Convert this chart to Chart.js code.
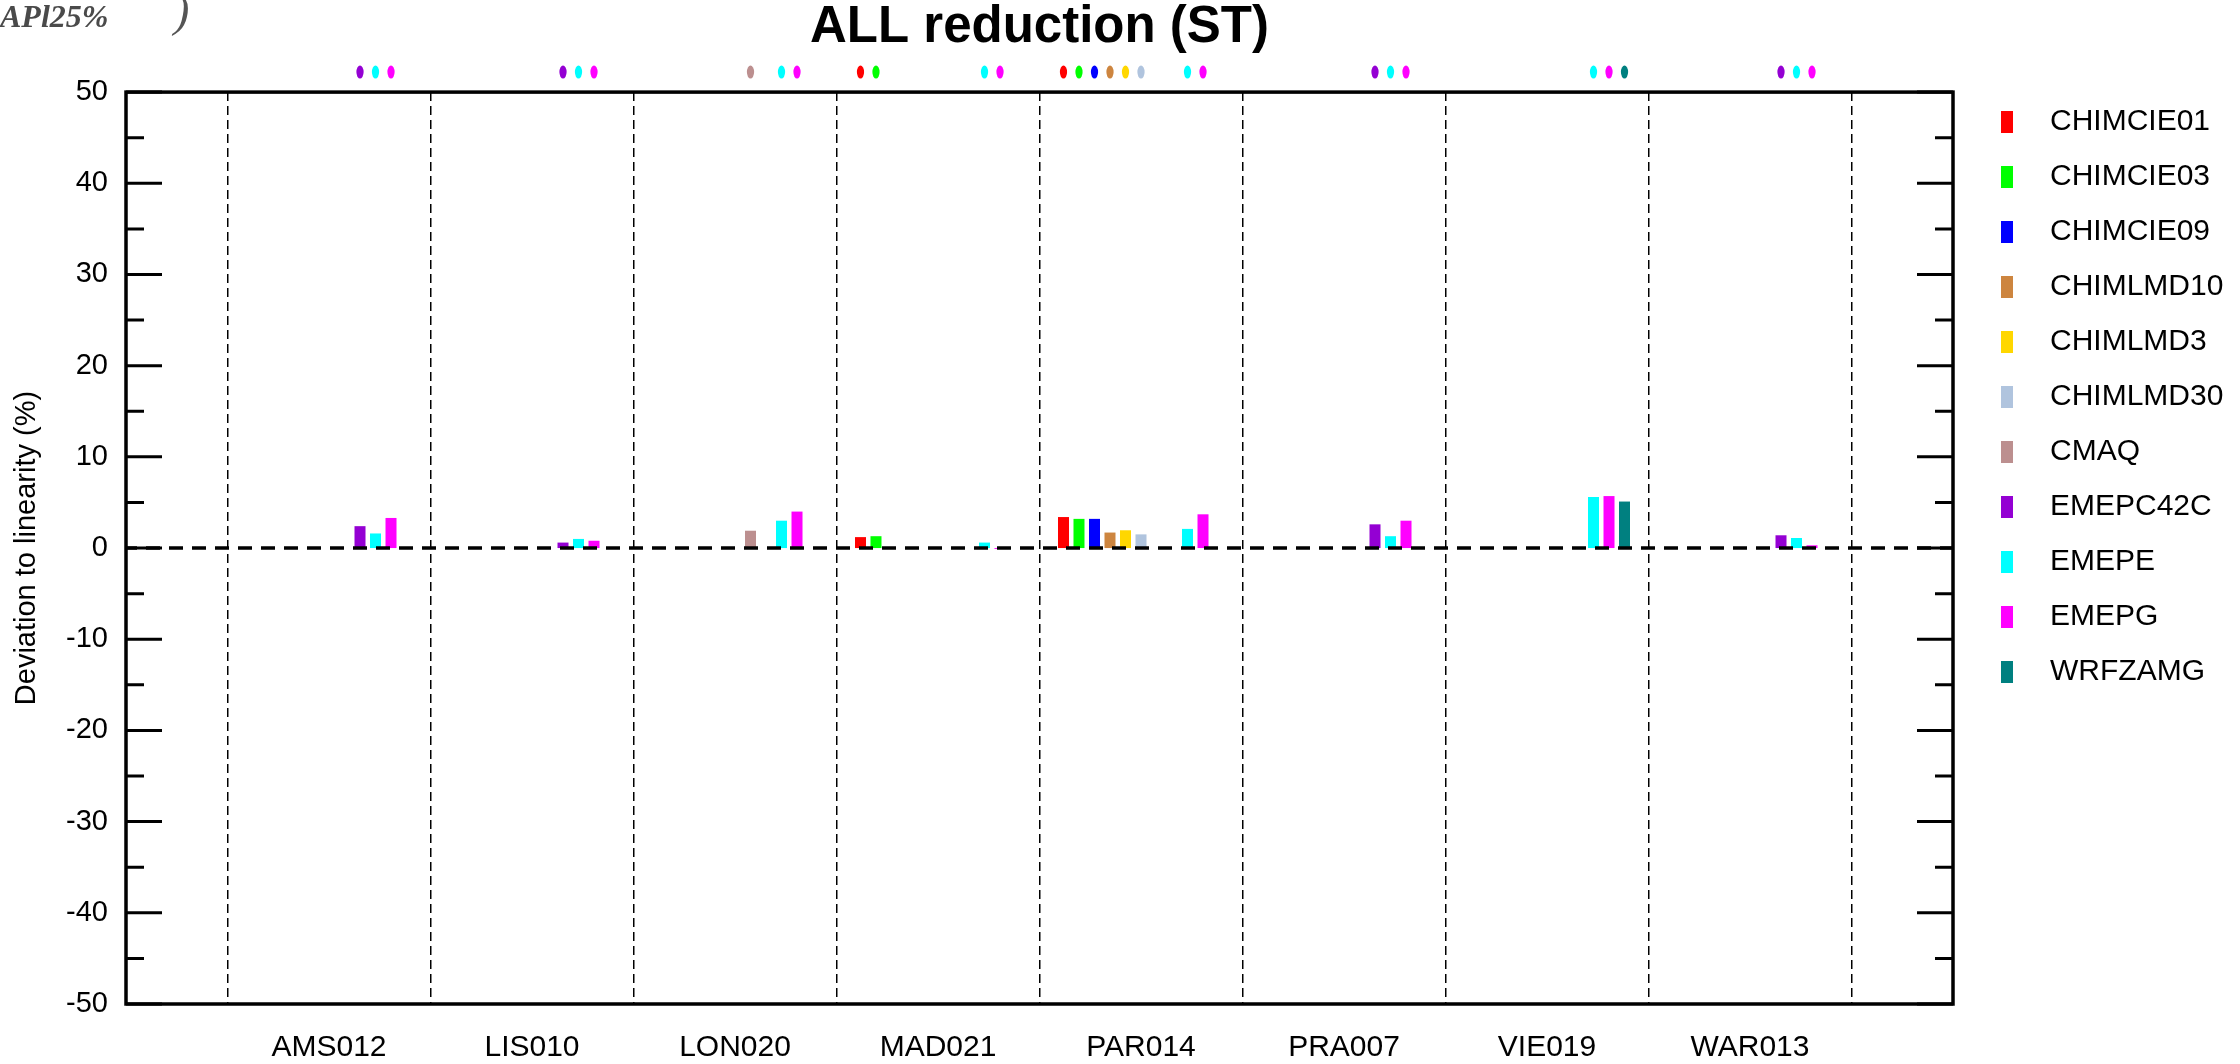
<!DOCTYPE html>
<html>
<head>
<meta charset="utf-8">
<script src="https://cdn.jsdelivr.net/npm/chart.js@4.4.0/dist/chart.umd.min.js"></script>
<style>
html,body{margin:0;padding:0;background:#fff;}
#wrap{width:2240px;height:1064px;position:relative;}
</style>
</head>
<body>
<div id="wrap"><canvas id="c" width="2240" height="1064"></canvas></div>
<script>
// ---- data ----
const stations = ['AMS012','LIS010','LON020','MAD021','PAR014','PRA007','VIE019','WAR013'];
const models = ['CHIMCIE01','CHIMCIE03','CHIMCIE09','CHIMLMD10','CHIMLMD3','CHIMLMD30','CMAQ','EMEPC42C','EMEPE','EMEPG','WRFZAMG'];
const modelColors = ['#FF0000','#00FF00','#0000FF','#CD853F','#FFD700','#B0C4DE','#BC8F8F','#9400D3','#00FFFF','#FF00FF','#008080'];

// deviation to linearity (%), one value per station (null = no model data)
const CHIMCIE01 = [null, null, null, 1.2, 3.4, null, null, null];
const CHIMCIE03 = [null, null, null, 1.3, 3.2, null, null, null];
const CHIMCIE09 = [null, null, null, null, 3.2, null, null, null];
const CHIMLMD10 = [null, null, null, null, 1.7, null, null, null];
const CHIMLMD3  = [null, null, null, null, 1.95, null, null, null];
const CHIMLMD30 = [null, null, null, null, 1.5, null, null, null];
const CMAQ      = [null, null, 1.9, null, null, null, null, null];
const EMEPC42C  = [2.4, 0.6, null, null, null, 2.6, null, 1.4];
const EMEPE     = [1.6, 1.0, 3.0, 0.6, 2.1, 1.3, 5.6, 1.1];
const EMEPG     = [3.3, 0.8, 4.0, -0.1, 3.7, 3.0, 5.7, 0.3];
const WRFZAMG   = [null, null, null, null, null, null, 5.1, null];
const seriesValues = [CHIMCIE01, CHIMCIE03, CHIMCIE09, CHIMLMD10, CHIMLMD3, CHIMLMD30, CMAQ, EMEPC42C, EMEPE, EMEPG, WRFZAMG];

const yMin = -50, yMax = 50, yStep = 5, yLabelStep = 10;
const titleText = 'ALL reduction (ST)';
const yTitle = 'Deviation to linearity (%)';
const cornerText = 'APl25%';

// padded category axis: empty slot at each end
const xLabels = [''].concat(stations, ['']);

Chart.defaults.font.family = '"Liberation Sans", Arial, Helvetica, sans-serif';
Chart.defaults.color = '#000';

function legendSwatch(color) {
  const c = document.createElement('canvas');
  c.width = 12; c.height = 22;
  const g = c.getContext('2d');
  g.fillStyle = color; g.fillRect(0, 0, 12, 22);
  return c;
}
const swatches = modelColors.map(legendSwatch);

const datasets = models.map((m, i) => ({
  label: m,
  data: [null].concat(seriesValues[i], [null]),
  backgroundColor: modelColors[i],
  borderWidth: 0,
  categoryPercentage: 0.84,
  barPercentage: 0.71
}));

const decor = {
  id: 'decor',
  afterDatasetsDraw(chart) {
    const {ctx, chartArea: a, scales: {y}} = chart;
    ctx.save();
    // zero reference line
    const y0 = y.getPixelForValue(0);
    ctx.strokeStyle = '#000';
    ctx.lineWidth = 3.5;
    ctx.setLineDash([14, 9]);
    ctx.lineDashOffset = 3;
    ctx.beginPath(); ctx.moveTo(a.left, y0); ctx.lineTo(a.right, y0); ctx.stroke();
    ctx.setLineDash([]);
    // inward ticks on both sides
    ctx.lineWidth = 3;
    y.ticks.forEach(t => {
      const py = y.getPixelForValue(t.value);
      const len = (Math.abs(t.value) % yLabelStep === 0) ? 36 : 18;
      ctx.beginPath();
      ctx.moveTo(a.left, py); ctx.lineTo(a.left + len, py);
      ctx.moveTo(a.right, py); ctx.lineTo(a.right - len, py);
      ctx.stroke();
    });
    // frame
    ctx.lineWidth = 3.5;
    ctx.strokeRect(a.left, a.top, a.right - a.left, a.bottom - a.top);
    // availability dots above the plot
    chart.data.datasets.forEach((ds, i) => {
      const meta = chart.getDatasetMeta(i);
      ds.data.forEach((v, j) => {
        if (v === null || v === undefined) return;
        const el = meta.data[j];
        ctx.fillStyle = ds.backgroundColor;
        ctx.beginPath();
        ctx.ellipse(el.x, a.top - 20, 3.6, 6.5, 0, 0, Math.PI * 2);
        ctx.fill();
      });
    });
    ctx.restore();
  },
  afterDraw(chart) {
    const ctx = chart.ctx;
    ctx.save();
    ctx.fillStyle = '#4a4a4a';
    ctx.textBaseline = 'alphabetic';
    ctx.textAlign = 'left';
    ctx.font = 'italic bold 32px "Liberation Serif", serif';
    ctx.fillText(cornerText, 0, 27);
    ctx.fillStyle = '#555';
    ctx.font = 'italic 46px "Liberation Serif", serif';
    ctx.fillText(')', 174, 26);
    ctx.restore();
  }
};

new Chart(document.getElementById('c'), {
  type: 'bar',
  data: { labels: xLabels, datasets },
  options: {
    responsive: false,
    animation: false,
    layout: { padding: { left: 0, right: 10, top: 0, bottom: 0 } },
    plugins: {
      title: {
        display: true, text: titleText, fullSize: false, color: '#000',
        font: { size: 51, weight: 'bold', lineHeight: 1.1 },
        padding: { top: 0, bottom: 36 }
      },
      legend: {
        position: 'right', align: 'start', fullSize: true, maxWidth: 277,
        title: { display: true, text: '', font: { size: 10, lineHeight: 1.2 }, padding: { top: 70, bottom: 0 } },
        labels: {
          usePointStyle: true, pointStyleWidth: 57, padding: 25, color: '#000',
          font: { size: 30 },
          generateLabels: chart => chart.data.datasets.map((ds, i) => ({
            text: ds.label, pointStyle: swatches[i], fillStyle: ds.backgroundColor,
            strokeStyle: ds.backgroundColor, lineWidth: 0, hidden: false, datasetIndex: i, fontColor: '#000'
          }))
        }
      },
      tooltip: { enabled: false }
    },
    scales: {
      x: {
        type: 'category', offset: false,
        grid: { display: true, offset: true, color: '#000', lineWidth: 1.5, drawTicks: false },
        border: { display: false, dash: [9, 5] },
        ticks: { autoSkip: false, maxRotation: 0, minRotation: 0, font: { size: 30 }, color: '#000', padding: 26 },
        afterFit: s => { s.height = 60; }
      },
      y: {
        min: yMin, max: yMax,
        grid: { display: false, drawTicks: false },
        border: { display: false },
        ticks: {
          stepSize: yStep, font: { size: 29 }, color: '#000', padding: 18,
          callback: v => (Math.abs(v) % yLabelStep === 0 ? String(v) : '')
        },
        title: { display: true, text: yTitle, font: { size: 29 }, color: '#000', padding: { top: 10, bottom: 0 } },
        afterFit: s => { s.width = 126; }
      }
    }
  },
  plugins: [decor]
});
</script>
</body>
</html>
